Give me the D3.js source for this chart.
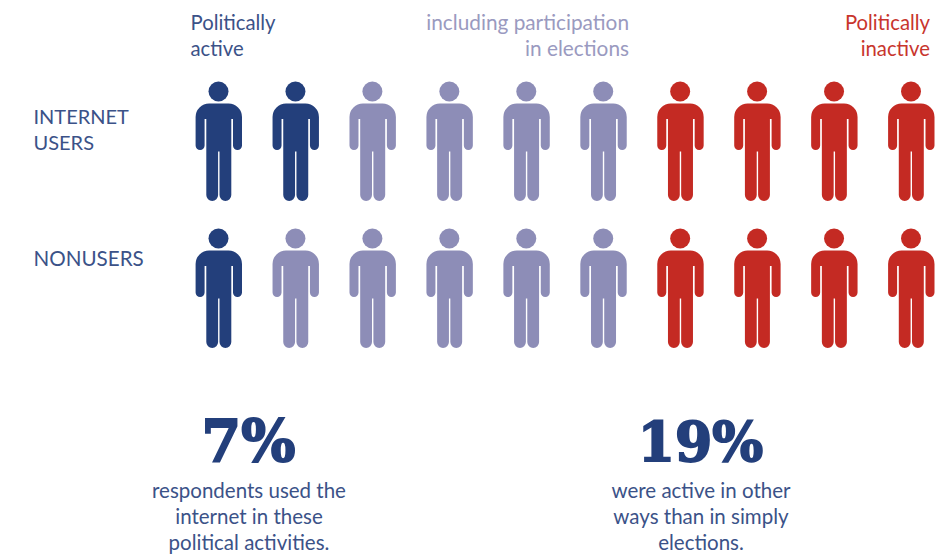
<!DOCTYPE html>
<html><head><meta charset="utf-8">
<script src="https://cdnjs.cloudflare.com/ajax/libs/d3/7.8.5/d3.min.js"></script>
<style>html,body{margin:0;padding:0;background:#fff}svg{display:block}text{font-family:Lato,"Open Sans",sans-serif}</style>
</head><body><svg id="c" width="948" height="557"></svg>
<script>
const rowNames=["INTERNET USERS","NONUSERS"];
const groups=["active","elections","inactive"];
const internetUsers=[2,4,4];
const nonusers=[1,5,4];
const rowCounts=[internetUsers,nonusers];
const colors={active:"#233f7b",elections:"#8d8db7",inactive:"#c42a23"};
const textBlue="#3b5288";
const svg=d3.select("#c");
const x=d3.scalePoint().domain(d3.range(10)).range([218.5,911]);
const y=d3.scalePoint().domain(rowNames).range([91.5,238.5]);
const icon="M-10 12 h20 a13.5 13.5 0 0 1 13.5 13.5 V54 a4.5 4.5 0 0 1 -9 0 V27.5 h-1.7 V103.5 a5.9 5.9 0 0 1 -11.8 0 V60 h-1.4 V103.5 a5.9 5.9 0 0 1 -11.8 0 V27.5 h-1.7 V54 a4.5 4.5 0 0 1 -9 0 V25.5 a13.5 13.5 0 0 1 13.5 -13.5 Z";
rowNames.forEach((r,ri)=>{
  const seq=[];
  groups.forEach((g,gi)=>d3.range(rowCounts[ri][gi]).forEach(()=>seq.push(g)));
  const p=svg.append("g").selectAll("g").data(seq).join("g")
    .attr("transform",(d,i)=>`translate(${x(i)},${y(r)})`).attr("fill",d=>colors[d]);
  p.append("circle").attr("r",10);
  p.append("path").attr("d",icon);
});
function lines(arr,xp,yp,anchor,fill,size,lh){
  arr.forEach((t,i)=>svg.append("text").attr("x",xp).attr("y",yp+i*lh).attr("text-anchor",anchor)
    .attr("fill",fill).attr("font-size",size).text(t));
}
lines(["Politically","active"],190.5,30,"start",textBlue,20.3,26);
lines(["including participation","in elections"],629,30,"end","#9a9ac0",20.8,26);
lines(["Politically","inactive"],930,30,"end","#c8352d",20.3,26);
lines(["INTERNET","USERS"],33.5,124,"start",textBlue,20,26);
lines(["NONUSERS"],33.5,266,"start",textBlue,20.6,26);
const big=[["7%",248.5,57],["19%",700.5,53.5]];
big.forEach(([t,xp,s])=>svg.append("text").attr("x",xp).attr("y",461).attr("text-anchor","middle")
  .attr("fill","#233f7b").attr("stroke","#233f7b").attr("stroke-width",2)
  .style("font-family","'DejaVu Serif'").style("font-weight",700).attr("font-size",s).text(t));
lines(["respondents used the","internet in these","political activities."],249,498,"middle",textBlue,20.5,26);
lines(["were active in other","ways than in simply","elections."],701,498,"middle",textBlue,20.5,26);
</script></body></html>
